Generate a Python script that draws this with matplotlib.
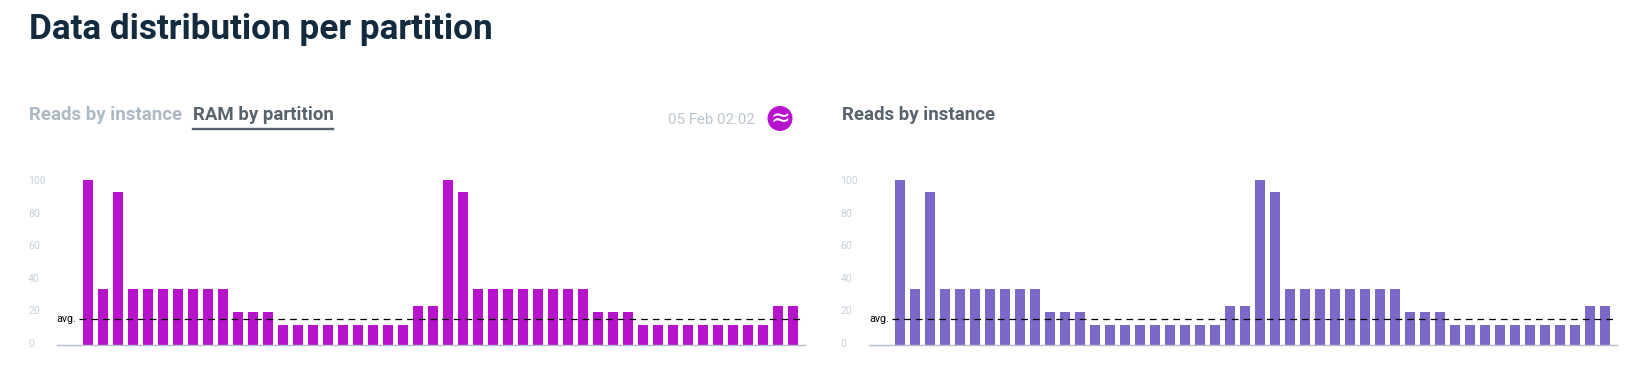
import matplotlib
matplotlib.use('Agg')
import matplotlib.pyplot as plt
from matplotlib.patches import Circle

W = 1646
H = 368

plt.rcParams['font.family'] = ['Roboto', 'DejaVu Sans']

# values, both panels show the same distribution
values = [100, 34, 93, 34, 34, 34, 34, 34, 34, 34, 20, 20, 20,
          12, 12, 12, 12, 12, 12, 12, 12, 12, 24, 24,
          100, 93, 34, 34, 34, 34, 34, 34, 34, 34, 20, 20, 20,
          12, 12, 12, 12, 12, 12, 12, 12, 12, 24, 24]
avg = 15.7
tick_vals = [0, 20, 40, 60, 80, 100]

title = 'Data distribution per partition'
tab_off = 'Reads by instance'
tab_on = 'RAM by partition'
right_title = 'Reads by instance'
stamp = '05 Feb 02:02'

MAGENTA = '#b813cc'
PURPLE = '#7b68c9'
TICK_C = '#c9d1d9'
AXIS_C = '#b4bfcb'


def px_text(fig, x, y, s, **kw):  # text placed in image pixels, y from the top
	return fig.text(x / W, 1 - y / H, s, **kw)


def panel(fig, x0, color):  # x0 is the left end of the baseline in pixels
	bottom = 345.3
	top = 180.0
	right = x0 + 748.3
	ax = fig.add_axes([x0 / W, 1 - bottom / H, (right - x0) / W, (bottom - top) / H])
	pos = list(range(len(values)))
	ax.bar(pos, values, width=10 / 15, color=color, linewidth=0, zorder=2)
	ax.set_xlim(-2.087, -2.087 + (right - x0) / 15)
	ax.set_ylim(0, 100)
	for s in ['top', 'left', 'right']:
		ax.spines[s].set_visible(False)
	ax.spines['bottom'].set_color(AXIS_C)
	ax.spines['bottom'].set_linewidth(1.0)
	ax.set_xticks([])
	# tick labels sit a bit above the true scale in the reference
	ax.set_yticks([1.6 + v * 0.984 for v in tick_vals])
	ax.set_yticklabels([str(v) for v in tick_vals], color=TICK_C, fontsize=7.6, ha='left')
	ax.tick_params(axis='y', length=0, pad=20.6)
	ax.axhline(avg, xmin=22.5 / (right - x0), color='black', lw=0.9, dashes=(5.36, 4.0), zorder=3)
	ax.text(0, avg, 'avg.', transform=ax.get_yaxis_transform(), color='black',
		fontsize=7.7, ha='left', va='center')
	return ax


fig = plt.figure(figsize=(W / 100, H / 100), dpi=100, facecolor='white')

px_text(fig, 28.5, 29, title, fontsize=25.25, fontweight='bold', color='#142b3f', va='center')

px_text(fig, 29.3, 114.5, tab_off, fontsize=13.4, fontweight='semibold', color='#adb9c4', va='center')
px_text(fig, 193, 114.5, tab_on, fontsize=13.4, fontweight='semibold', color='#59636e', va='center')
fig.add_artist(plt.Line2D([193 / W, 333 / W], [1 - 129 / H, 1 - 129 / H], color='#59636e', lw=1.7))

px_text(fig, 667.5, 120, stamp, fontsize=10.9, color='#bcc5ce', va='center')
px_text(fig, 842, 114.5, right_title, fontsize=13.4, fontweight='semibold', color='#59636e', va='center')

panel(fig, 56.7, MAGENTA)
panel(fig, 869, PURPLE)

# round badge with the approx sign
badge = fig.add_axes([0, 0, 1, 1], facecolor='none')
badge.set_xlim(0, W)
badge.set_ylim(H, 0)
badge.axis('off')
badge.add_patch(Circle((780, 118.5), 12.5, color=MAGENTA, linewidth=0))
badge.text(780, 118.5, '\u2248', color='white', fontsize=17, ha='center', va='center', family='DejaVu Sans')

fig.savefig('out.png', dpi=100)
